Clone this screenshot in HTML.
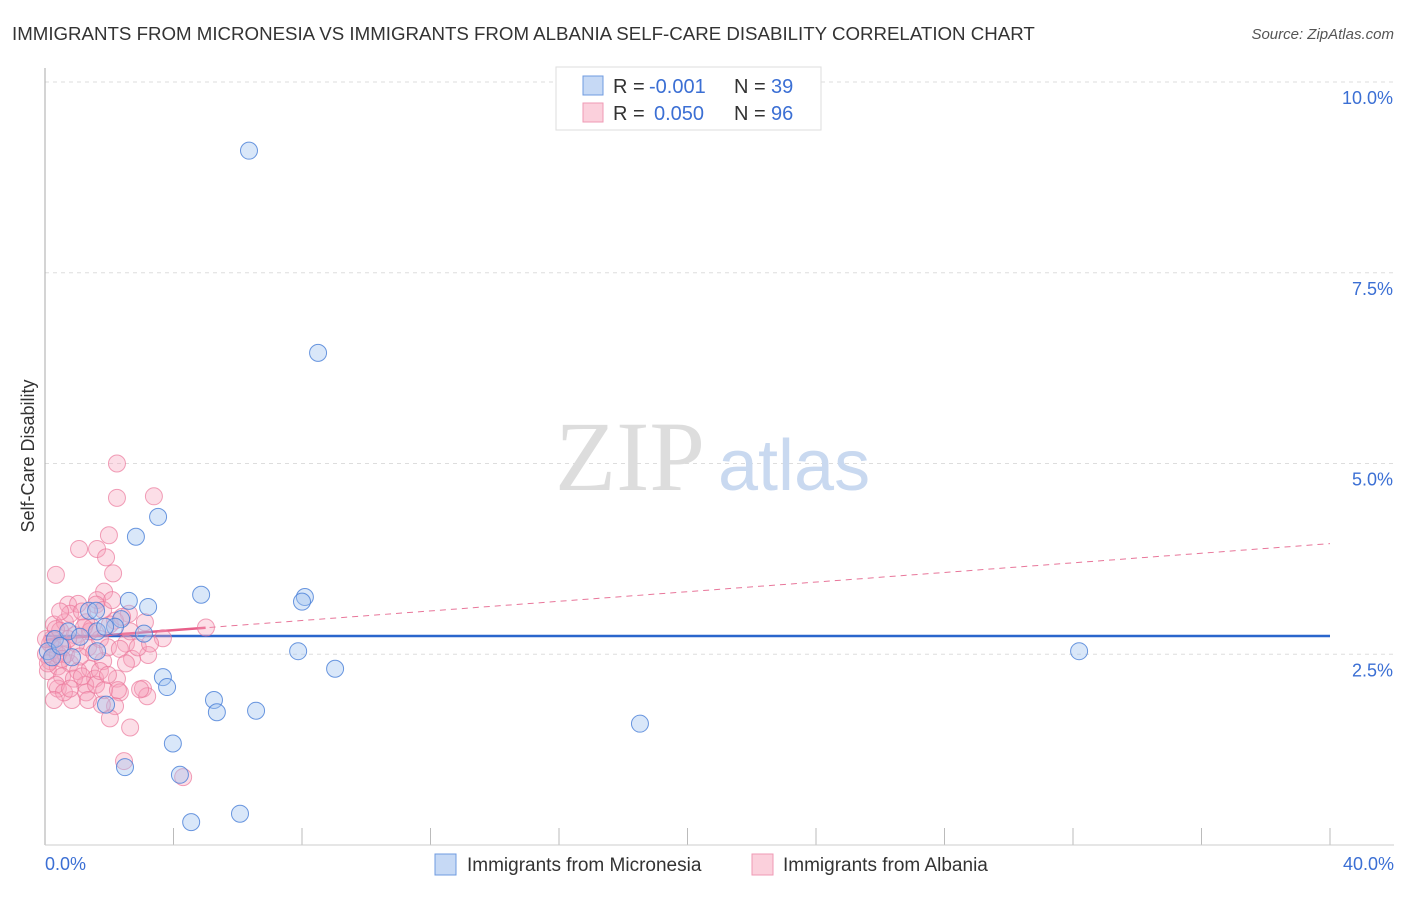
<!DOCTYPE html>
<html><head><meta charset="utf-8"><style>
body{margin:0;background:#fff;font-family:"Liberation Sans",sans-serif;}
</style></head><body>
<svg width="1406" height="892" xmlns="http://www.w3.org/2000/svg">
<text x="12" y="40" font-size="18.7" fill="#333">IMMIGRANTS FROM MICRONESIA VS IMMIGRANTS FROM ALBANIA SELF-CARE DISABILITY CORRELATION CHART</text>
<text x="1394" y="39" font-size="15" fill="#555" font-style="italic" text-anchor="end">Source: ZipAtlas.com</text>
<g id="grid"></g>
<line x1="45" y1="68" x2="45" y2="845" stroke="#aaa"/>
<line x1="45" y1="845" x2="1394" y2="845" stroke="#ccc"/>
<text x="555" y="490" font-size="100" fill="#ddd" font-family="Liberation Serif">ZIP</text>
<text x="718" y="490" font-size="72" fill="#c9d9f0">atlas</text>
<text x="34" y="456" font-size="18" fill="#333" text-anchor="middle" transform="rotate(-90 34 456)">Self-Care Disability</text>
<g id="lines"></g>
<g id="pts"></g>
<g>
<rect x="556" y="67" width="265" height="63" fill="#fff" stroke="#ddd"/>
<rect x="583" y="76" width="20" height="19" fill="#c6d9f5" stroke="#6f9be0"/>
<rect x="583" y="103" width="20" height="19" fill="#fbd0dc" stroke="#ef9ab4"/>
<text x="613" y="93" font-size="20" fill="#333">R =</text>
<text x="649" y="93" font-size="20" fill="#3b6fd4">-0.001</text>
<text x="734" y="93" font-size="20" fill="#333">N =</text>
<text x="771" y="93" font-size="20" fill="#3b6fd4">39</text>
<text x="613" y="120" font-size="20" fill="#333">R =</text>
<text x="654" y="120" font-size="20" fill="#3b6fd4">0.050</text>
<text x="734" y="120" font-size="20" fill="#333">N =</text>
<text x="771" y="120" font-size="20" fill="#3b6fd4">96</text>
</g>
<g>
<rect x="435" y="854" width="21" height="21" fill="#c6d9f5" stroke="#6f9be0"/>
<text x="467" y="871" font-size="19" fill="#333">Immigrants from Micronesia</text>
<rect x="752" y="854" width="21" height="21" fill="#fbd0dc" stroke="#ef9ab4"/>
<text x="783" y="871" font-size="19" fill="#333">Immigrants from Albania</text>
</g>
<text x="45" y="870" font-size="18" fill="#3b6fd4">0.0%</text>
<text x="1394" y="870" font-size="18" fill="#3b6fd4" text-anchor="end">40.0%</text>
</svg>
<script>
const yTicks=[2.5,5,7.5,10];
const yTickLabels=["2.5%","5.0%","7.5%","10.0%"];
const blueX=[6.35,8.5,3.52,2.83,4.86,8.09,8.0,3.21,2.61,1.37,1.59,2.37,2.18,3.08,1.62,1.87,0.31,0.72,0.84,1.62,7.88,32.19,9.03,3.67,3.8,5.26,5.35,6.57,1.9,18.52,3.98,2.49,4.2,4.55,6.07,0.09,0.22,1.09,0.47];
const blueY=[9.1,6.45,4.3,4.04,3.28,3.25,3.19,3.12,3.2,3.07,3.07,2.96,2.86,2.77,2.8,2.86,2.7,2.8,2.46,2.54,2.54,2.54,2.31,2.2,2.07,1.9,1.74,1.76,1.84,1.59,1.33,1.02,0.92,0.3,0.41,2.54,2.46,2.73,2.61];
const pinkX=[2.24,2.24,3.39,1.99,1.06,1.62,1.9,0.34,2.12,1.84,0.72,1.62,1.03,2.61,3.11,2.18,0.28,0.62,1.28,0.47,1.46,0.93,3.67,5.01,2.52,3.21,0.28,0.16,0.09,0.4,0.78,0.53,1.03,1.4,1.56,1.81,1.25,0.84,0.4,2.24,2.33,2.18,2.02,2.65,3.05,3.18,2.96,2.46,4.3,0.22,0.65,1.34,1.71,0.97,0.34,0.59,1.28,1.59,1.84,1.09,0.72,1.4,2.02,0.03,0.09,0.16,0.34,0.78,1.15,1.59,1.81,0.4,0.53,0.9,1.15,1.71,1.96,2.33,2.71,2.89,2.09,2.4,3.27,0.03,0.53,1.21,1.53,1.96,2.27,2.52,1.34,0.28,0.78,1.77,2.65,0.47];
const pinkY=[5.0,4.55,4.57,4.06,3.88,3.88,3.77,3.54,3.56,3.32,3.15,3.21,3.16,3.03,2.92,2.94,2.89,2.92,2.92,2.81,2.85,2.75,2.71,2.85,2.64,2.49,2.57,2.41,2.28,2.34,2.38,2.21,2.28,2.31,2.18,2.41,2.1,1.9,2.05,2.18,2.0,1.82,1.66,1.54,2.05,1.95,2.04,1.1,0.89,2.7,2.5,2.59,2.7,2.64,2.1,2.0,2.0,2.1,2.03,2.47,2.7,2.8,2.89,2.5,2.38,2.64,2.83,3.03,3.06,3.15,3.08,2.5,2.59,2.18,2.21,2.28,2.59,2.57,2.44,2.59,3.21,2.99,2.64,2.7,2.44,2.85,2.52,2.23,2.03,2.38,1.9,1.9,2.05,1.84,2.8,3.06];
const blueTrend=[2.74,2.74];
const pinkTrend=[2.69,3.95];
const xMax=40;
const X=v=>45+v*(1330-45)/xMax;
const Y=v=>845-v*76.3;
const NS="http://www.w3.org/2000/svg";
function mk(t,a,p){const e=document.createElementNS(NS,t);for(const k in a)e.setAttribute(k,a[k]);p.appendChild(e);return e;}
const grid=document.getElementById('grid');
yTicks.forEach((t,i)=>{
 const l=mk('line',{x1:45,x2:1394,y1:Y(t),y2:Y(t),stroke:'#ddd','stroke-dasharray':'4 4'},grid);
 
 
 const tx=mk('text',{x:1393,y:Y(t)+22,'font-size':18,fill:'#3b6fd4','text-anchor':'end'},grid);
 tx.textContent=yTickLabels[i];
 
 
});
for(let i=1;i<=10;i++){const v=i*4;const l=mk('line',{x1:X(v),x2:X(v),y1:828,y2:845,stroke:'#bbb'},grid);
 
 }
const pts=document.getElementById('pts');
pinkX.forEach((x,i)=>{const c=mk('circle',{cx:X(x),cy:Y(pinkY[i]),r:8.5,fill:'rgba(247,160,185,0.35)',stroke:'rgba(235,120,155,0.7)','stroke-width':1},pts);
 
 });
blueX.forEach((x,i)=>{const c=mk('circle',{cx:X(x),cy:Y(blueY[i]),r:8.5,fill:'rgba(160,195,240,0.4)',stroke:'rgba(70,125,215,0.8)','stroke-width':1},pts);
 
 });
const lines=document.getElementById('lines');
const bl=mk('line',{x1:X(0),x2:X(xMax),y1:Y(blueTrend[0]),y2:Y(blueTrend[1]),stroke:'#2a66cc','stroke-width':2.5},lines);


const pyAt=v=>pinkTrend[0]+(pinkTrend[1]-pinkTrend[0])*v/xMax;
const pd=mk('line',{x1:X(0),x2:X(xMax),y1:Y(pinkTrend[0]),y2:Y(pinkTrend[1]),stroke:'#e8769a','stroke-width':1,'stroke-dasharray':'6 5'},lines);


const ps=mk('line',{x1:X(0),x2:X(5),y1:Y(pinkTrend[0]),y2:Y(pyAt(5)),stroke:'#e8608a','stroke-width':2.5},lines);


</script>
</body></html>
